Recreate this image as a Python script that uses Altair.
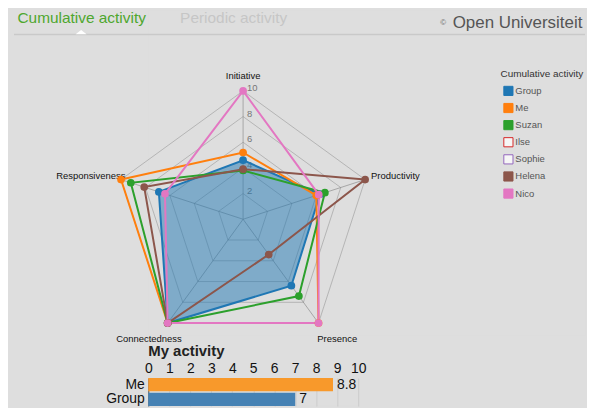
import altair as alt
import pandas as pd

# ---------------- data ----------------
AXES = ["Initiative", "Productivity", "Presence", "Connectedness", "Responsiveness"]
SERIES = ["Group", "Me", "Suzan", "Ilse", "Sophie", "Helena", "Nico"]
COLORS = ["#1f77b4", "#ff7f0e", "#2ca02c", "#d62728", "#9467bd", "#8c564b", "#e377c2"]
SHOWN = [True, True, True, False, False, True, True]

GROUP = [4.6, 6.3, 6.4, 10, 6.9]
ME = [5.2, 6.0, 10, 10, 10]
SUZAN = [3.8, 6.7, 7.4, 10, 9.2]
HELENA = [3.9, 10, 3.4, 10, 8.1]
NICO = [10, 6.2, 10, 10, 6.4]

LEVELS = [2, 4, 6, 8, 10]
MAXV = 10

BAR_CATS = ["Me", "Group"]
BAR_VALUES = [8.8, 7]
BAR_COLORS = ["#f8992b", "#4682b4"]
BAR_TICKS = [0, 1, 2, 3, 4, 5, 6, 7, 8, 9, 10]

HEADER_TABS = ["Cumulative activity", "Periodic activity"]
BRAND = "Open Universiteit"
COPY = "©"
BAR_TITLE = "My activity"
LEGEND_TITLE = "Cumulative activity"

FONT = "Liberation Sans"

# ---------------- layout (page pixels) ----------------
X0, X1 = 148, 587
Y0, Y1 = 8, 334
CX, CY, RAD = 243.3, 218.3, 129.0
BAR_W, BAR_H, SPACING = 211, 28, 44

xs = alt.Scale(domain=[X0, X1], nice=False, zero=False)
ys = alt.Scale(domain=[Y0, Y1], reverse=True, nice=False, zero=False)


def px(v):
    return v - X0


def py(v):
    return v - Y0


ANG = "datum.idx*2*PI/5"
XEXPR = f"{CX} + datum.value/{MAXV}*{RAD}*sin({ANG})"
YEXPR = f"{CY} - datum.value/{MAXV}*{RAD}*cos({ANG})"

values_by_series = {"Group": GROUP, "Me": ME, "Suzan": SUZAN, "Helena": HELENA, "Nico": NICO}
rows = []
for s in SERIES:
    if s in values_by_series:
        for i, (a, v) in enumerate(zip(AXES, values_by_series[s])):
            rows.append({"series": s, "axis": a, "idx": i, "value": v})
radar_df = pd.DataFrame(rows)

grid_df = pd.DataFrame([{"level": l, "idx": i, "value": l} for l in LEVELS for i in range(len(AXES))])
axes_df = pd.DataFrame({"axis": AXES, "idx": list(range(len(AXES))), "value": [MAXV] * len(AXES)})
ticks_df = pd.DataFrame({"level": LEVELS, "label": [str(l) for l in LEVELS]})
legend_df = pd.DataFrame({
    "series": SERIES,
    "color": COLORS,
    "fill": [c if sh else "#f6f6f6" for c, sh in zip(COLORS, SHOWN)],
    "i": list(range(len(SERIES))),
})

enc_xy = dict(x=alt.X("x:Q", scale=xs, axis=None), y=alt.Y("y:Q", scale=ys, axis=None))
one = pd.DataFrame({"a": [0]})

layers = []

# header
layers.append(alt.Chart(one).mark_rule(color="#c9c9c9", strokeWidth=1.5).encode(
    x=alt.value(px(13)), x2=alt.value(px(X1)), y=alt.value(py(32.5))))
layers.append(alt.Chart(one).mark_point(
    shape="M-1,0.8L1,0.8L0,0Z", size=121, filled=True, fill="white", opacity=1, strokeWidth=0).encode(
    x=alt.value(px(80.5)), y=alt.value(py(28))))
layers.append(alt.Chart(pd.DataFrame({"t": [HEADER_TABS[0]]})).mark_text(
    align="left", baseline="alphabetic", fontSize=15.5, color="#4ea72e", font=FONT).encode(
    x=alt.value(px(16.5)), y=alt.value(py(21.5)), text="t:N"))
layers.append(alt.Chart(pd.DataFrame({"t": [HEADER_TABS[1]]})).mark_text(
    align="left", baseline="alphabetic", fontSize=15.5, color="#c6c6c6", font=FONT).encode(
    x=alt.value(px(180)), y=alt.value(py(21.5)), text="t:N"))
layers.append(alt.Chart(pd.DataFrame({"t": [COPY]})).mark_text(
    align="left", baseline="alphabetic", fontSize=8, color="#666", font=FONT).encode(
    x=alt.value(px(441.5)), y=alt.value(py(23.5)), text="t:N"))
layers.append(alt.Chart(pd.DataFrame({"t": [BRAND]})).mark_text(
    align="left", baseline="alphabetic", fontSize=17, color="#555", font=FONT).encode(
    x=alt.value(px(454)), y=alt.value(py(26.5)), text="t:N"))

# grid levels
layers.append(alt.Chart(grid_df).transform_calculate(x=XEXPR, y=YEXPR).mark_line(
    interpolate="linear-closed", color="#808080", strokeWidth=0.6, opacity=0.75).encode(
    detail="level:N", order="idx:Q", **enc_xy))
# spokes
layers.append(alt.Chart(axes_df).transform_calculate(x=XEXPR, y=YEXPR, x0=f"{CX}", y0=f"{CY}").mark_rule(
    color="#808080", strokeWidth=1, opacity=0.6).encode(
    x=alt.X("x0:Q", scale=xs, axis=None), y=alt.Y("y0:Q", scale=ys, axis=None), x2="x:Q", y2="y:Q"))
# tick labels
layers.append(alt.Chart(ticks_df).transform_calculate(
    x=f"{CX} + 4", y=f"{CY} - datum.level/{MAXV}*{RAD} - 3").mark_text(
    align="left", baseline="middle", fontSize=9.5, color="#777", font=FONT).encode(text="label:N", **enc_xy))
# axis labels
layers.append(alt.Chart(axes_df).transform_calculate(
    x=f"{CX} + 161*sin({ANG})", y=f"{CY} - 146*cos({ANG}) + 2").mark_text(
    align="center", baseline="middle", fontSize=9.5, color="#111", font=FONT).encode(text="axis:N", **enc_xy))

color_scale = alt.Scale(domain=SERIES, range=COLORS)

for s in SERIES:
    if s not in values_by_series:
        continue
    props = dict(interpolate="linear-closed", strokeWidth=2)
    if s == "Group":
        props.update(fill=COLORS[SERIES.index(s)], fillOpacity=0.5)
    layers.append(alt.Chart(radar_df).transform_filter(alt.datum.series == s).transform_calculate(
        x=XEXPR, y=YEXPR).mark_line(**props).encode(
        color=alt.Color("series:N", scale=color_scale, legend=None), order="idx:Q", **enc_xy))
for s in SERIES:
    if s not in values_by_series:
        continue
    layers.append(alt.Chart(radar_df).transform_filter(alt.datum.series == s).transform_calculate(
        x=XEXPR, y=YEXPR).mark_circle(size=60, opacity=1).encode(
        color=alt.Color("series:N", scale=color_scale, legend=None), **enc_xy))

# legend
layers.append(alt.Chart(pd.DataFrame({"t": [LEGEND_TITLE]})).transform_calculate(x="502", y="72.5").mark_text(
    align="left", baseline="middle", fontSize=10, color="#333", font=FONT).encode(text="t:N", **enc_xy))
layers.append(alt.Chart(legend_df).transform_calculate(x="510", y="89.3 + datum.i*17.2").mark_point(
    shape="square", size=85, opacity=1, strokeWidth=1).encode(
    fill=alt.Fill("fill:N", scale=None), stroke=alt.Stroke("color:N", scale=None), **enc_xy))
layers.append(alt.Chart(legend_df).transform_calculate(x="517", y="89.3 + datum.i*17.2").mark_text(
    align="left", baseline="middle", fontSize=9.5, color="#555", font=FONT).encode(text="series:N", **enc_xy))

top = alt.layer(*layers).properties(width=X1 - X0, height=Y1 - Y0)

# ---------------- bar chart ----------------
bar_df = pd.DataFrame({"who": BAR_CATS, "value": BAR_VALUES, "color": BAR_COLORS})
x_bar = alt.X("value:Q", scale=alt.Scale(domain=[0, 10], nice=False),
              axis=alt.Axis(orient="top", values=BAR_TICKS, tickCount=len(BAR_TICKS), title=None,
                            labelFontSize=14, labelColor="#111", ticks=False, tickSize=0, domain=False,
                            gridColor="#cccccc", labelPadding=3, labelOverlap=False, labelFlush=False,
                            labelFont=FONT))
y_bar = alt.Y("who:N", sort=BAR_CATS, scale=alt.Scale(paddingInner=0.1, paddingOuter=0),
              axis=alt.Axis(title=None, labelFontSize=14, labelColor="#111", ticks=False, domainColor="#555",
                            labelPadding=4, minExtent=140, maxExtent=140, labelFont=FONT))
base = alt.Chart(bar_df).encode(x=x_bar, y=y_bar)
bars = base.mark_bar().encode(color=alt.Color("color:N", scale=None))
vals = base.mark_text(align="left", baseline="middle", dx=4, fontSize=14, color="#111", font=FONT).encode(
    text="value:Q")
bar_chart = alt.layer(bars, vals).properties(
    width=BAR_W, height=BAR_H,
    title=alt.TitleParams(BAR_TITLE, anchor="start", frame="group", fontSize=15, fontWeight="bold", offset=2,
                          color="#222", font=FONT))

chart = alt.vconcat(top, bar_chart, spacing=SPACING, bounds="flush").properties(
    padding=0, background="#dedede").configure_view(strokeWidth=0).configure(font=FONT)

chart.save("out.html", embed_options={"renderer": "svg", "actions": False})
